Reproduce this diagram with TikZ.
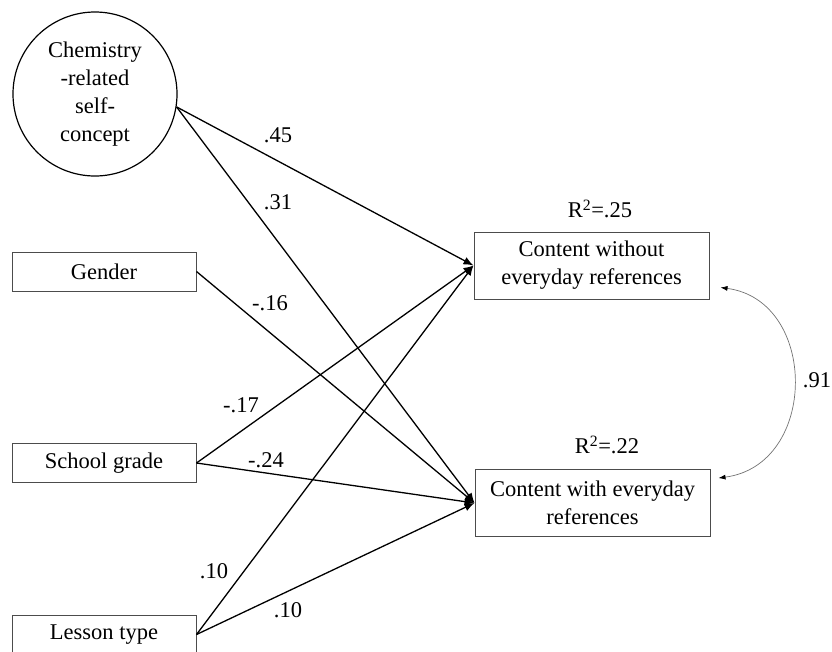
\documentclass[tikz,border=0pt]{standalone}
\usepackage{fontspec}
\setmainfont{Liberation Serif}
\usetikzlibrary{arrows.meta}

\begin{document}
\begin{tikzpicture}[x=1pt,y=-1pt,
    every node/.style={font=\fontsize{22.5}{28}\selectfont},
    var/.style={draw=black!70,line width=1pt,minimum width=184pt,minimum height=39pt,inner sep=0pt},
    dv/.style={draw=black!70,line width=1pt,minimum width=235pt,minimum height=67pt,inner sep=0pt,align=center},
    effect/.style={line width=1.3pt,-{Latex[length=10pt,width=8pt]}},
    cov/.style={black!55,line width=0.7pt,{Latex[length=7pt,width=5pt,black]}-{Latex[length=7pt,width=5pt,black]}}]
                \useasboundingbox (0,0) rectangle (832,651);

                % 自变量
                \node[circle,draw=black,line width=1.2pt,minimum size=164pt,inner sep=0pt,align=center] (self) at (95,94) {Chemistry\\-related\\self-\\concept};
                \node[var] (gender) at (104,271.5) {Gender};
                \node[var] (grade) at (104,463) {School grade};
                \node[var] (lesson) at (104,634.5) {Lesson type};

                % 因变量
                \node[dv] (without) at (591.5,265.5) {Content without\\everyday references};
                \node[dv] (with) at (592.5,503) {Content with everyday\\references};
                \node (r25) at (600,209) {R\textsuperscript{2}=.25};
                \node (r22) at (607,445) {R\textsuperscript{2}=.22};

                % 路径
                \foreach \s/\t in {self.-9/without, self.-9/with, gender.east/with, grade.east/without, grade.east/with, lesson.east/without, lesson.east/with}
                    \draw[effect] (\s) -- (\t.west);

                % 系数
                \node (b45) at (278,135) {.45};
                \node (b31) at (278,202) {.31};
                \node (b16) at (270,303) {-.16};
                \node (b17) at (241,405) {-.17};
                \node (b24) at (266,460) {-.24};
                \node (b10a) at (214,571) {.10};
                \node (b10b) at (288,610) {.10};

                % 残差相关
                \draw[cov] ([shift={(11,-12)}]without.south east) .. controls +(98,13) and +(100,-13) .. ([shift={(8,9)}]with.north east);
                \node (r91) at (817,380) {.91};
            \end{tikzpicture}
\end{document}
